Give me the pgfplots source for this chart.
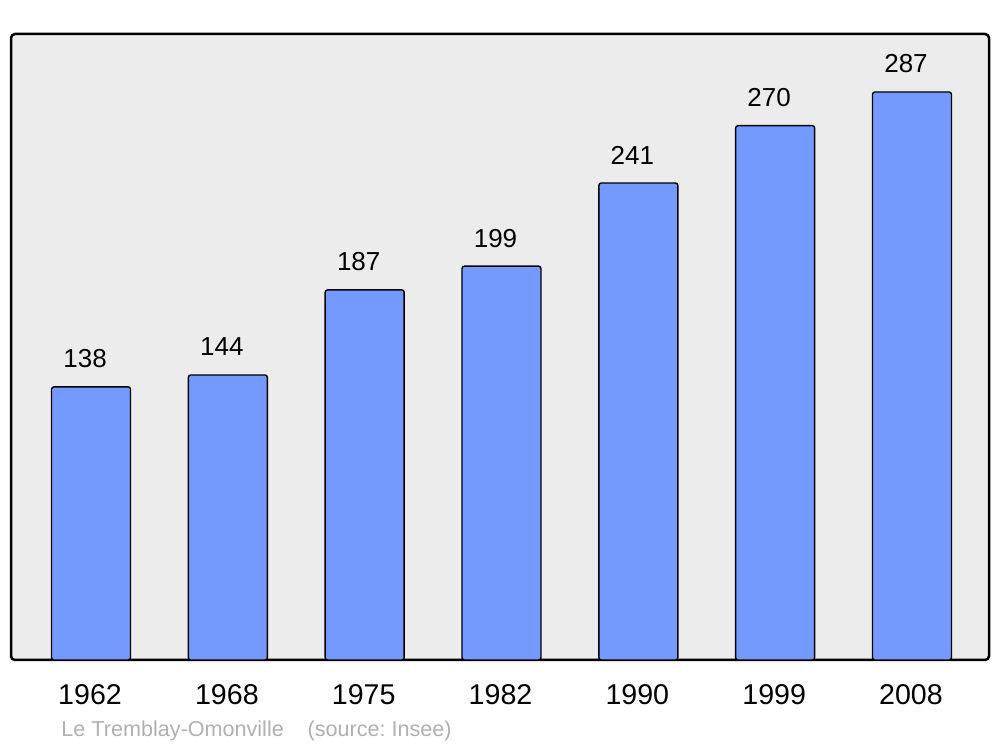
\documentclass[border=0pt]{standalone}
\usepackage{pgfplots}
\pgfplotsset{compat=1.18}
\usepackage{fontspec}
\setmainfont{Liberation Sans}
\definecolor{barblue}{HTML}{7499FF}
\definecolor{bggray}{HTML}{ECECEC}
\definecolor{srcgray}{HTML}{B0B0B0}
\frenchspacing
\begin{document}
\begin{tikzpicture}[x=1pt,y=1pt]
\useasboundingbox (0,0) rectangle (500,373.5);
\begin{axis}[
  at={(5.5pt,43.5pt)}, anchor=south west,
  width=489pt, height=313pt, scale only axis,
  xmin=-0.585, xmax=6.563,
  ymin=0, ymax=316.3,
  axis background/.style={fill=bggray},
  axis line style={line width=1.25pt, rounded corners=2pt},
  ytick=\empty,
  xtick={0,1,2,3,4,5,6},
  xticklabels={1962,1968,1975,1982,1990,1999,2008},
  major tick length=0pt,
  xticklabel style={font=\fontsize{14.3}{16}\selectfont, anchor=base, xshift=-0.5pt, yshift=-22.5pt},
  /pgf/number format/assume math mode=true,
  clip=false,
]
\addplot[ybar, bar width=39.5pt, fill=barblue, draw=black, line width=0.7pt, rounded corners=1.2pt,
  nodes near coords,
  every node near coord/.style={font=\fontsize{13}{15}\selectfont, text=black, anchor=base, xshift=-3pt, yshift=9.5pt, rounded corners=0pt},
  nodes near coords style={/pgf/number format/fixed}]
coordinates {(0,138) (1,144) (2,187) (3,199) (4,241) (5,270) (6,287)};
\end{axis}
\node[anchor=base west, inner sep=0pt, text=srcgray, font=\fontsize{10.8}{12}\selectfont] at (30.5,5) {Le Tremblay-Omonville\hspace{1.1em}(source: Insee)};
\end{tikzpicture}
\end{document}
